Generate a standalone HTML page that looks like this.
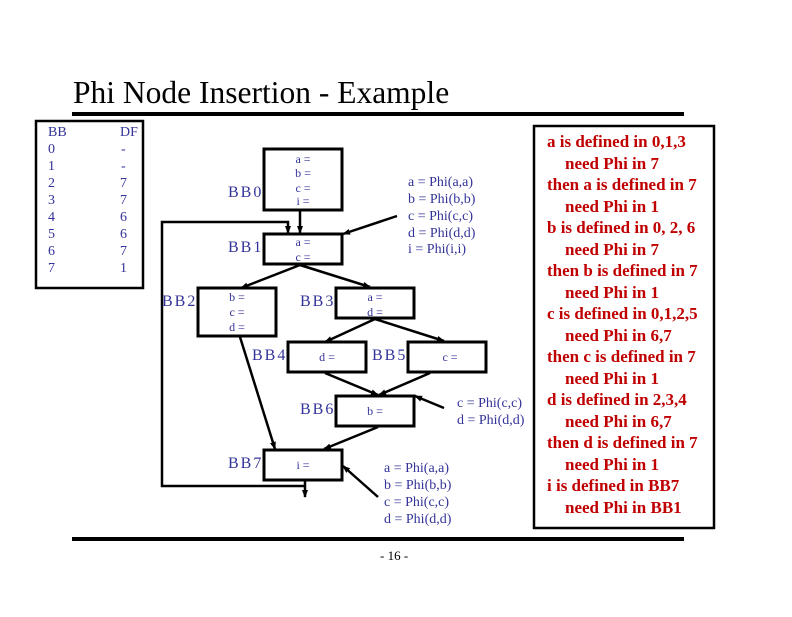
<!DOCTYPE html>
<html><head><style>
body{margin:0;background:#fff;}
svg text{font-family:"Liberation Serif",serif;}
</style></head><body>
<svg width="792" height="612" xmlns="http://www.w3.org/2000/svg">
<defs><marker id="a" markerWidth="8" markerHeight="8" refX="7" refY="4" orient="auto" markerUnits="userSpaceOnUse"><path d="M0,1 L8,4 L0,7 z" fill="#000"/></marker></defs>
<text x="73" y="103" font-size="31.5" fill="#000">Phi Node Insertion - Example</text>
<rect x="72" y="112" width="612" height="4" fill="#000"/>
<rect x="72" y="537" width="612" height="4" fill="#000"/>
<text x="380" y="560" font-size="13" fill="#000">- 16 -</text>
<!-- table -->
<rect x="36" y="121" width="107" height="167" fill="none" stroke="#000" stroke-width="2.5"/>
<g font-size="14" fill="#333399">
<text x="48" y="136">BB</text><text x="120" y="136">DF</text>
<text x="48" y="153">0</text><text x="121" y="153">-</text>
<text x="48" y="170">1</text><text x="121" y="170">-</text>
<text x="48" y="187">2</text><text x="120" y="187">7</text>
<text x="48" y="204">3</text><text x="120" y="204">7</text>
<text x="48" y="221">4</text><text x="120" y="221">6</text>
<text x="48" y="238">5</text><text x="120" y="238">6</text>
<text x="48" y="255">6</text><text x="120" y="255">7</text>
<text x="48" y="272">7</text><text x="120" y="272">1</text>
</g>
<!-- boxes -->
<g fill="none" stroke="#000" stroke-width="3">
<rect x="264" y="149" width="78" height="61"/>
<rect x="264" y="234" width="78" height="30"/>
<rect x="198" y="288" width="78" height="48"/>
<rect x="336" y="288" width="78" height="30"/>
<rect x="288" y="342" width="78" height="30"/>
<rect x="408" y="342" width="78" height="30"/>
<rect x="336" y="396" width="78" height="30"/>
<rect x="264" y="450" width="78" height="30"/>
</g>
<g font-size="12" fill="#333399" text-anchor="middle">
<text x="303" y="163">a =</text><text x="303" y="177">b =</text><text x="303" y="192">c =</text><text x="303" y="205">i =</text>
<text x="303" y="246">a =</text><text x="303" y="261">c =</text>
<text x="237" y="301">b =</text><text x="237" y="316">c =</text><text x="237" y="331">d =</text>
<text x="375" y="301">a =</text><text x="375" y="316">d =</text>
<text x="327" y="361">d =</text>
<text x="450" y="361">c =</text>
<text x="375" y="415">b =</text>
<text x="303" y="469">i =</text>
</g>
<g font-size="16" fill="#333399" letter-spacing="2">
<text x="228" y="197">BB0</text>
<text x="228" y="252">BB1</text>
<text x="162" y="306">BB2</text>
<text x="300" y="306">BB3</text>
<text x="252" y="360">BB4</text>
<text x="372" y="360">BB5</text>
<text x="300" y="414">BB6</text>
<text x="228" y="468">BB7</text>
</g>
<g font-size="14" fill="#333399">
<text x="408" y="186">a = Phi(a,a)</text><text x="408" y="203">b = Phi(b,b)</text><text x="408" y="220">c = Phi(c,c)</text><text x="408" y="237">d = Phi(d,d)</text><text x="408" y="253">i = Phi(i,i)</text>
<text x="457" y="407">c = Phi(c,c)</text><text x="457" y="424">d = Phi(d,d)</text>
<text x="384" y="472">a = Phi(a,a)</text><text x="384" y="489">b = Phi(b,b)</text><text x="384" y="506">c = Phi(c,c)</text><text x="384" y="523">d = Phi(d,d)</text>
</g>
<!-- edges -->
<g stroke="#000" stroke-width="2.5" fill="none" marker-end="url(#a)">
<line x1="300" y1="210" x2="300" y2="233"/>
<line x1="397" y1="216" x2="343" y2="234"/>
<line x1="300" y1="265" x2="241" y2="288"/>
<line x1="300" y1="265" x2="370" y2="287"/>
<line x1="375" y1="319" x2="325" y2="342"/>
<line x1="375" y1="319" x2="444" y2="341"/>
<line x1="325" y1="373" x2="378" y2="395"/>
<line x1="430" y1="373" x2="379" y2="395"/>
<line x1="444" y1="408" x2="415" y2="396"/>
<line x1="378" y1="427" x2="324" y2="449"/>
<line x1="240" y1="337" x2="275" y2="449"/>
<line x1="378" y1="497" x2="343" y2="466"/>
<polyline points="305,486 162,486 162,222 288,222 288,233"/>
<line x1="305" y1="481" x2="305" y2="497"/>
</g>
<!-- right box -->
<rect x="534" y="126" width="180" height="402" fill="none" stroke="#000" stroke-width="2.5"/>
<g font-size="17" font-weight="bold" fill="#c00000">
<text x="547" y="147">a is defined in 0,1,3</text>
<text x="565" y="169">need Phi in 7</text>
<text x="547" y="190">then a is defined in 7</text>
<text x="565" y="212">need Phi in 1</text>
<text x="547" y="233">b is defined in 0, 2, 6</text>
<text x="565" y="255">need Phi in 7</text>
<text x="547" y="276">then b is defined in 7</text>
<text x="565" y="298">need Phi in 1</text>
<text x="547" y="319">c is defined in 0,1,2,5</text>
<text x="565" y="341">need Phi in 6,7</text>
<text x="547" y="362">then c is defined in 7</text>
<text x="565" y="384">need Phi in 1</text>
<text x="547" y="405">d is defined in 2,3,4</text>
<text x="565" y="427">need Phi in 6,7</text>
<text x="547" y="448">then d is defined in 7</text>
<text x="565" y="470">need Phi in 1</text>
<text x="547" y="491">i is defined in BB7</text>
<text x="565" y="513">need Phi in BB1</text>
</g>
</svg>
</body></html>
